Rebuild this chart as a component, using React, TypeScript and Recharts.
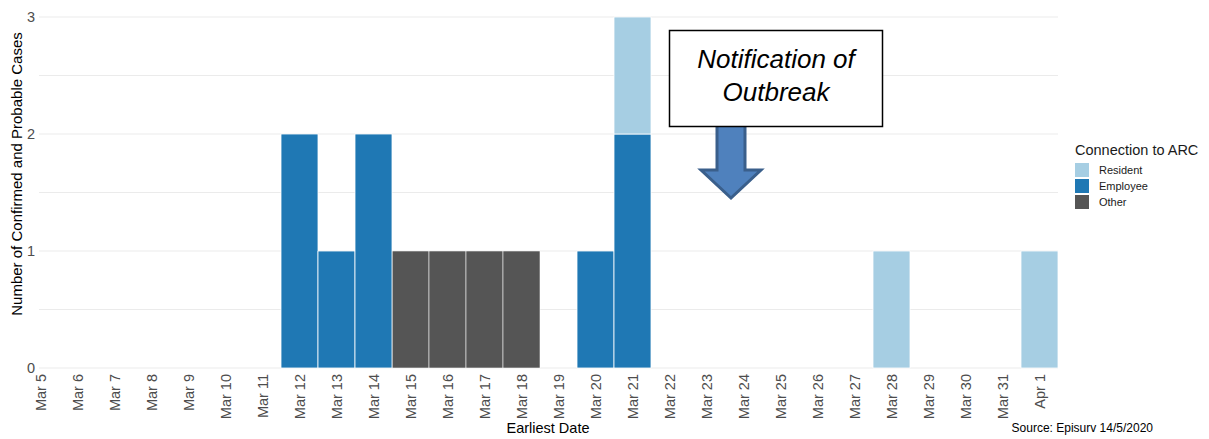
import { Bar, BarChart, CartesianGrid, XAxis, YAxis } from 'recharts';

const dates = [
    'Mar 5', 'Mar 6', 'Mar 7', 'Mar 8', 'Mar 9', 'Mar 10', 'Mar 11', 'Mar 12', 'Mar 13', 'Mar 14',
    'Mar 15', 'Mar 16', 'Mar 17', 'Mar 18', 'Mar 19', 'Mar 20', 'Mar 21', 'Mar 22', 'Mar 23', 'Mar 24',
    'Mar 25', 'Mar 26', 'Mar 27', 'Mar 28', 'Mar 29', 'Mar 30', 'Mar 31', 'Apr 1',
];
const resident = [0, 0, 0, 0, 0, 0, 0, 0, 0, 0, 0, 0, 0, 0, 0, 0, 1, 0, 0, 0, 0, 0, 0, 1, 0, 0, 0, 1];
const employee = [0, 0, 0, 0, 0, 0, 0, 2, 1, 2, 0, 0, 0, 0, 0, 1, 2, 0, 0, 0, 0, 0, 0, 0, 0, 0, 0, 0];
const other = [0, 0, 0, 0, 0, 0, 0, 0, 0, 0, 1, 1, 1, 1, 0, 0, 0, 0, 0, 0, 0, 0, 0, 0, 0, 0, 0, 0];
const yTicks = [0, 1, 2, 3];
const gridValues = [0, 0.5, 1, 1.5, 2, 2.5, 3];

const series = [
    { key: 'Resident', color: '#a6cee3' },
    { key: 'Employee', color: '#1f78b4' },
    { key: 'Other', color: '#555555' },
];

const data = dates.map((date, i) => ({
    date,
    Resident: resident[i],
    Employee: employee[i],
    Other: other[i],
}));

const FONT = '"Liberation Sans", Arial, sans-serif';

const XTick = ({ x, y, payload }: any) => (
    <text
        transform={`translate(${x},${y - 2}) rotate(-90)`}
        textAnchor="end"
        dy="0.35em"
        fontSize={14.5}
        fill="#4d4d4d"
        fontFamily={FONT}
    >
        {payload.value}
    </text>
);

const YTick = ({ y, payload }: any) => (
    <text x={35} y={y} dy="0.35em" textAnchor="end" fontSize={14.5} fill="#4d4d4d" fontFamily={FONT}>
        {payload.value}
    </text>
);

const GridLine = (props: any) => (
    <line
        key={props.key}
        x1={props.x1 + 17}
        x2={props.x2}
        y1={props.y1}
        y2={props.y2}
        stroke="#ebebeb"
        strokeWidth={1}
    />
);

export default function App() {
    return (
        <div style={{ position: 'absolute', left: 0, top: 0, width: 1209, height: 439, background: '#fff' }}>
            <BarChart
                width={1209}
                height={439}
                data={data}
                margin={{ top: 17, right: 151, bottom: 0, left: 0 }}
                barCategoryGap={0}
            >
                <CartesianGrid vertical={false} horizontalValues={gridValues} horizontal={GridLine}/>
                <XAxis dataKey="date" height={71} interval={0} axisLine={false} tickLine={false} tick={<XTick/>}/>
                <YAxis width={22} domain={[0, 3]} ticks={yTicks} axisLine={false} tickLine={false} tick={<YTick/>}/>
                <Bar dataKey="Other" stackId="a" fill="#555555" stroke="#ffffff" strokeOpacity={0.55} isAnimationActive={false}/>
                <Bar dataKey="Employee" stackId="a" fill="#1f78b4" stroke="#ffffff" strokeOpacity={0.8} isAnimationActive={false}/>
                <Bar dataKey="Resident" stackId="a" fill="#a6cee3" stroke="#ffffff" strokeOpacity={0.8} isAnimationActive={false}/>
            </BarChart>
            <div style={{ position: 'absolute', left: 1075, top: 142, fontFamily: FONT }}>
                <div style={{ fontSize: 14.5, color: '#1a1a1a', marginBottom: 4 }}>Connection to ARC</div>
                {series.map((s) => (
                    <div key={s.key} style={{ display: 'flex', alignItems: 'center', height: 16 }}>
                        <span style={{ width: 14, height: 14, background: s.color, display: 'inline-block' }}/>
                        <span style={{ fontSize: 11, color: '#1a1a1a', marginLeft: 10 }}>{s.key}</span>
                    </div>
                ))}
            </div>
            <svg
                width={1209}
                height={439}
                style={{ position: 'absolute', left: 0, top: 0, pointerEvents: 'none' }}
                fontFamily={FONT}
            >
                <text
                    transform="translate(22,174) rotate(-90)"
                    textAnchor="middle"
                    fontSize={15}
                    fill="#000"
                >
                    Number of Confirmed and Probable Cases
                </text>
                <text x={548} y={433} textAnchor="middle" fontSize={14.5} fill="#000">Earliest Date</text>
                <text x={1153} y={432} textAnchor="end" fontSize={12} fill="#000">Source: Episurv 14/5/2020</text>
                <polygon
                    points="717,120 745,120 745,170 761,170 731,198 701,170 717,170"
                    fill="#4f81bd"
                    stroke="#3a5f8b"
                    strokeWidth={3}
                />
                <rect x={669.5} y={30.5} width={213} height={96} fill="#fff" stroke="#000" strokeWidth={1.5}/>
                <text x={776} y={68} textAnchor="middle" fontSize={26} fontStyle="italic" fill="#000">
                    Notification of
                </text>
                <text x={776} y={101} textAnchor="middle" fontSize={26} fontStyle="italic" fill="#000">
                    Outbreak
                </text>
            </svg>
        </div>
    );
}
